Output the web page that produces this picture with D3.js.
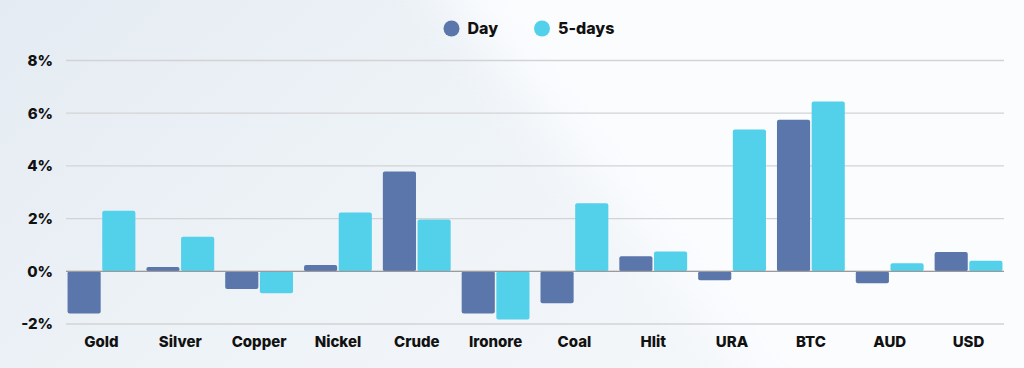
<!DOCTYPE html>
<html><head><meta charset="utf-8">
<script src="https://cdn.jsdelivr.net/npm/d3@7"></script>
<style>
html,body{margin:0;padding:0;background:#f8fafc;}
svg{display:block;}
text{font-family:Inter,"DejaVu Sans",sans-serif;font-weight:800;fill:#111;}
</style></head>
<body>
<svg id="chart" width="1024" height="368"></svg>
<script>
const categories = ["Gold","Silver","Copper","Nickel","Crude","Ironore","Coal","Hlit","URA","BTC","AUD","USD"];
const seriesNames = ["Day","5-days"];
const dayValues = [-1.6, 0.16, -0.67, 0.24, 3.79, -1.6, -1.21, 0.57, -0.34, 5.75, -0.45, 0.73];
const fiveDayValues = [2.30, 1.31, -0.83, 2.23, 1.97, -1.83, 2.58, 0.75, 5.38, 6.44, 0.31, 0.40];
const yTicks = [-2, 0, 2, 4, 6, 8];
const colors = ["#5a76ab", "#53d0ea"];

const svg = d3.select("#chart");
const W = 1024, H = 368;

// background
const defs = svg.append("defs");
const lg = defs.append("linearGradient").attr("id","bg").attr("x1","0").attr("y1","0").attr("x2","1").attr("y2","0.4");
lg.append("stop").attr("offset","0").attr("stop-color","#e4ebf2");
lg.append("stop").attr("offset","0.5").attr("stop-color","#eef3f7");
lg.append("stop").attr("offset","1").attr("stop-color","#f4f7fa");
defs.append("filter").attr("id","blur").attr("x","-20%").attr("y","-20%").attr("width","140%").attr("height","140%")
  .append("feGaussianBlur").attr("stdDeviation",25);
svg.append("rect").attr("width",W).attr("height",H).attr("fill","url(#bg)");
svg.append("path").attr("d","M400,-60 L1100,-60 L1100,430 L790,430 Z").attr("fill","#fafcfe").attr("filter","url(#blur)");

const x0 = d3.scaleBand().domain(categories).range([66,1004]).paddingInner(0.1).paddingOuter(0);
const x1 = d3.scaleBand().domain(seriesNames).range([0,x0.bandwidth()]).padding(0.045);
const y = d3.scaleLinear().domain([-2,8]).range([324,60.5]);

// grid
svg.append("g").selectAll("line").data(yTicks).join("line")
  .attr("x1",66).attr("x2",1004)
  .attr("y1",d=>y(d)).attr("y2",d=>y(d))
  .attr("stroke","#d3d3d5").attr("stroke-width",1.3);

// y labels
const yAxis = d3.axisLeft(y).tickValues(yTicks).tickFormat(d=>d+"%").tickSize(0).tickPadding(0);
const ya = svg.append("g").attr("transform","translate(53,0)").call(yAxis);
ya.select(".domain").remove();
ya.selectAll("text").attr("font-size",15).attr("fill","#111").style("font-family","Inter, sans-serif").style("font-weight",800);

// bars
const data = categories.map((c,i)=>({cat:c, vals:[{s:"Day",v:dayValues[i]},{s:"5-days",v:fiveDayValues[i]}]}));
const groups = svg.append("g").selectAll("g").data(data).join("g").attr("transform",d=>`translate(${x0(d.cat)},0)`);
groups.selectAll("rect").data(d=>d.vals).join("rect")
  .attr("x",d=>x1(d.s)).attr("width",x1.bandwidth())
  .attr("y",d=>Math.min(y(d.v),y(0))).attr("height",d=>Math.abs(y(d.v)-y(0)))
  .attr("rx",2)
  .attr("fill",(d,i)=>colors[i]);

// zero line
svg.append("line").attr("x1",66).attr("x2",1004).attr("y1",y(0)).attr("y2",y(0)).attr("stroke","#9a9a9c").attr("stroke-width",1.3);

// x labels
const xAxis = d3.axisBottom(x0).tickSize(0).tickPadding(0);
const xa = svg.append("g").attr("transform","translate(0,336.5)").call(xAxis);
xa.select(".domain").remove();
xa.selectAll("text").attr("font-size",15).attr("fill","#111").attr("dy","0.7em").style("font-family","Inter, sans-serif").style("font-weight",800);

// legend
const legend = svg.append("g");
const lx = [451.5, 542];
seriesNames.forEach((s,i)=>{
  legend.append("circle").attr("cx",lx[i]).attr("cy",28.5).attr("r",8).attr("fill",colors[i]);
  legend.append("text").attr("x",lx[i]+16).attr("y",28).attr("dy","0.35em").attr("font-size",16).text(s);
});
</script>
</body></html>
